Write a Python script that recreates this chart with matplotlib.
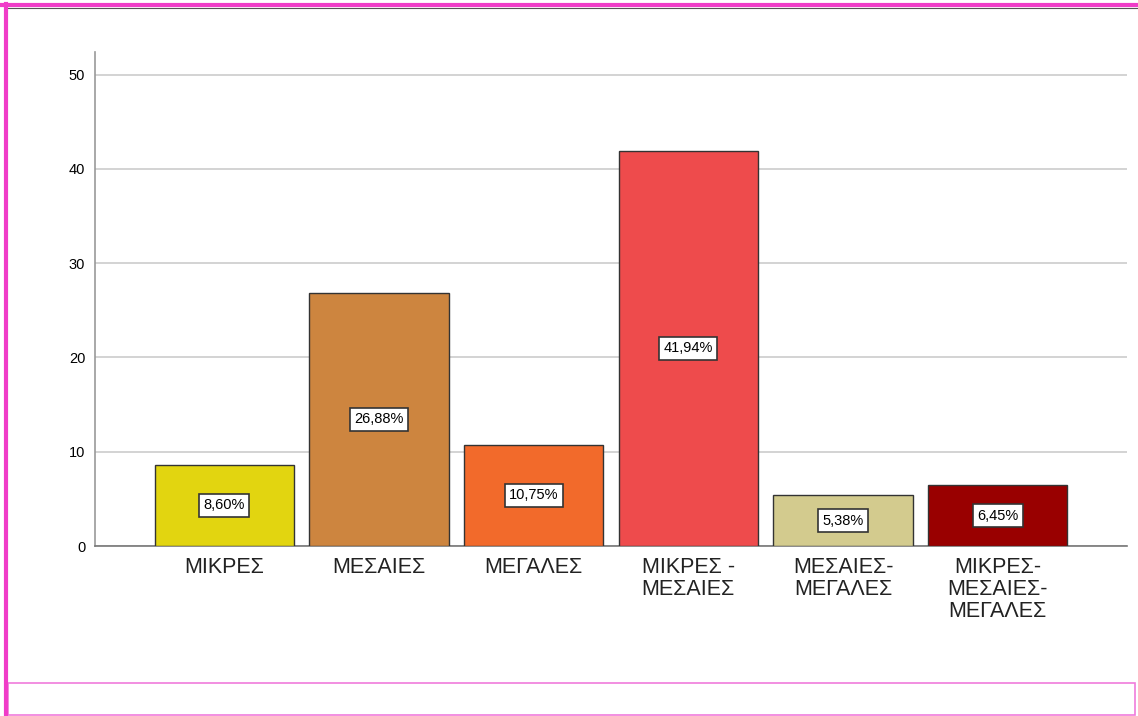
import matplotlib
matplotlib.use('Agg')
import matplotlib.pyplot as plt
from matplotlib import font_manager
from matplotlib.patches import Rectangle
from matplotlib.lines import Line2D

# data
categories = ['ΜΙΚΡΕΣ', 'ΜΕΣΑΙΕΣ', 'ΜΕΓΑΛΕΣ', 'ΜΙΚΡΕΣ -\nΜΕΣΑΙΕΣ',
              'ΜΕΣΑΙΕΣ-\nΜΕΓΑΛΕΣ', 'ΜΙΚΡΕΣ-\nΜΕΣΑΙΕΣ-\nΜΕΓΑΛΕΣ']
percent = [8.60, 26.88, 10.75, 41.94, 5.38, 6.45]
bar_colors = ['#E2D510', '#CD853F', '#F26A2B', '#EE4B4C', '#D3CB8E', '#990000']
yticks = [0, 10, 20, 30, 40, 50]

plt.rcParams['font.family'] = ['Liberation Sans', 'DejaVu Sans']

# narrow face for the labels if it is there
names = {f.name for f in font_manager.fontManager.ttflist}
if 'Liberation Sans Narrow' in names:
    narrow = ['Liberation Sans Narrow', 'DejaVu Sans']
    xlab_size, bar_size = 18.5, 12.5
else:
    narrow = ['Liberation Sans', 'DejaVu Sans']
    xlab_size, bar_size = 15.5, 10.5

fig = plt.figure(figsize=(11.38, 7.16), dpi=100)
W, H = 1138, 716

# outer magenta frame (top + left) and bottom box
fig.add_artist(Line2D([0, 1], [1 - 5 / H, 1 - 5 / H], color='#F03CC8', lw=3, transform=fig.transFigure))
fig.add_artist(Line2D([8 / W, 1], [1 - 8 / H, 1 - 8 / H], color='#555555', lw=0.8, transform=fig.transFigure))
fig.add_artist(Line2D([6 / W, 6 / W], [0, 1 - 4 / H], color='#F03CC8', lw=3, transform=fig.transFigure))
fig.add_artist(Rectangle((8 / W, 1 / H), (1135 - 8) / W, (716 - 684) / H, fill=False,
                         edgecolor='#F07CDC', lw=1.2, transform=fig.transFigure))

ax = fig.add_axes([95 / W, (716 - 546) / H, (1127 - 95) / W, (546 - 52) / H])
x = range(len(categories))
bars = ax.bar(x, percent, width=0.9, color=bar_colors, edgecolor='#333333', linewidth=1, zorder=3)

for b, v in zip(bars, percent):
    ax.text(b.get_x() + b.get_width() / 2, v / 2, f'{v:.2f}%'.replace('.', ','),
            ha='center', va='center', fontsize=bar_size, family=narrow, zorder=4,
            bbox=dict(boxstyle='square,pad=0.3', facecolor='white', edgecolor='#333333', lw=1.2))

ax.set_xlim(-0.835, 5.835)
ax.set_ylim(0, 52.4)
ax.set_yticks(yticks)
ax.set_yticklabels([str(t) for t in yticks], fontsize=10.5)
ax.set_xticks(list(x))
ax.set_xticklabels(categories, fontsize=xlab_size, family=narrow, linespacing=1.07, color='#222222')
ax.tick_params(axis='x', length=0, pad=8)
ax.tick_params(axis='y', length=0, pad=7)
ax.yaxis.grid(True, color='#CCCCCC', lw=1.2, zorder=0)
ax.set_axisbelow(True)
for s in ['top', 'right']:
    ax.spines[s].set_visible(False)
ax.spines['left'].set_color('#999999')
ax.spines['bottom'].set_color('#777777')
ax.spines['left'].set_linewidth(1.2)
ax.spines['bottom'].set_linewidth(1.2)

fig.savefig('out.png', dpi=100)
